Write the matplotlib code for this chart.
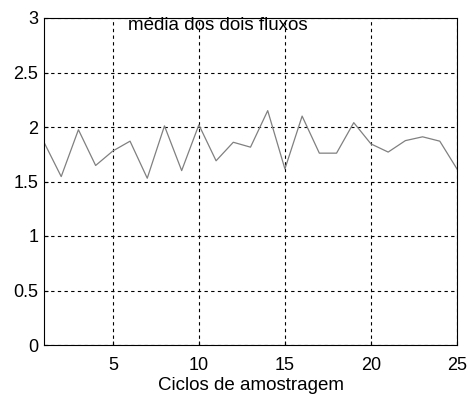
import matplotlib
matplotlib.use("Agg")
import matplotlib.pyplot as plt
import numpy as np

plt.rcParams['font.family'] = ['Liberation Sans', 'DejaVu Sans']

ciclos = np.arange(1, 26)
media = [1.86, 1.545, 1.975, 1.647, 1.78, 1.87, 1.53, 2.01, 1.60, 2.02,
         1.69, 1.86, 1.815, 2.15, 1.615, 2.10, 1.76, 1.76, 2.04, 1.845,
         1.77, 1.875, 1.91, 1.87, 1.615]
xticks = [5, 10, 15, 20, 25]
yticks = [0, 0.5, 1, 1.5, 2, 2.5, 3]
yticklabels = ['0', '0.5', '1', '1.5', '2', '2.5', '3']

fig = plt.figure(figsize=(4.7, 3.94), dpi=100)
# axes box: x 44..457 px, y 18..345 px
ax = fig.add_axes([44/470, 49/394, 413/470, 327/394])

ax.plot(ciclos, media, color='#808080', linewidth=0.9)

ax.set_xlim(1, 25)
ax.set_ylim(0, 3)
ax.set_xticks(xticks)
ax.set_yticks(yticks)
ax.set_yticklabels(yticklabels)
ax.tick_params(direction='in', length=3, labelsize=13, colors='black', width=0.8)
ax.tick_params(axis='x', pad=9)
ax.tick_params(axis='y', pad=4)
ax.grid(True, color='black', linestyle=(0, (3, 3)), linewidth=0.8)
for s in ax.spines.values():
    s.set_linewidth(0.8)
    s.set_color('black')

ax.set_xlabel('Ciclos de amostragem', fontsize=13.5)
ax.xaxis.set_label_coords(0.5, -0.097)
ax.text(0.42, 0.963, 'média dos dois fluxos', transform=ax.transAxes,
        ha='center', va='baseline', fontsize=13.5)

fig.savefig('out.png', dpi=100)
